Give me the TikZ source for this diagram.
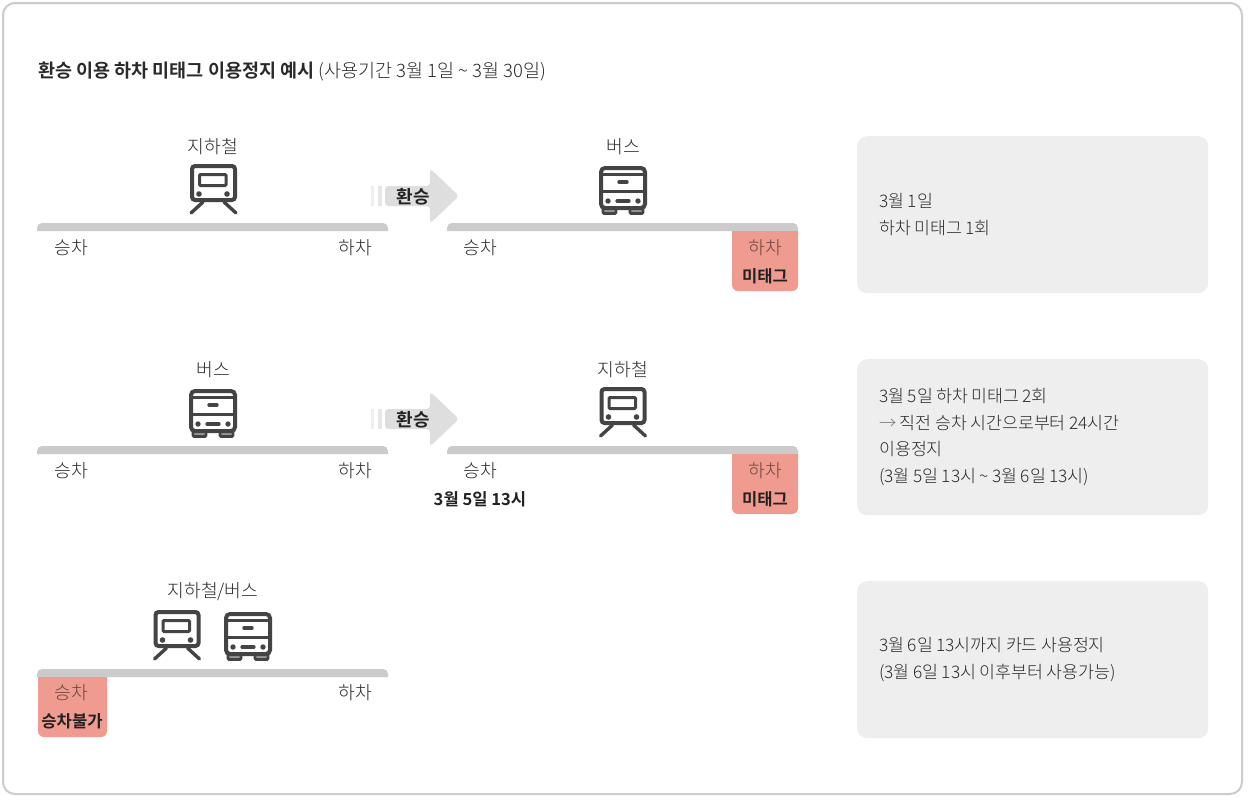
\documentclass[tikz,border=0pt]{standalone}
\usepackage{fontspec}
\setmainfont{Noto Sans CJK KR Light}[BoldFont={Noto Sans CJK KR Bold}]
\definecolor{framec}{HTML}{CCCCCC}
\definecolor{barc}{HTML}{CBCBCB}
\definecolor{tagc}{HTML}{EF9B8F}
\definecolor{boxc}{HTML}{EEEEEE}
\definecolor{arrc}{HTML}{DEDEDE}
\definecolor{iconc}{HTML}{444444}
\definecolor{txtc}{HTML}{2A2A2A}
\definecolor{tagtxt}{HTML}{6E4440}
\definecolor{boldc}{HTML}{222222}
\newcommand{\tld}{\char"7E\relax}
\newcommand{\tightwords}{\spaceskip=3.4pt\relax}
\tikzset{
  lbl/.style={inner sep=0pt,yshift=-1pt,text=txtc,font=\fontsize{18.2}{20}\selectfont},
  taglbl/.style={lbl,text=tagtxt},
  boldlbl/.style={inner sep=0pt,yshift=-1pt,text=boldc,font=\fontsize{16.6}{20}\selectfont\bfseries},
  xferlbl/.style={boldlbl,font=\fontsize{18}{20}\selectfont\bfseries},
  infobox/.style={anchor=north west,fill=boxc,rounded corners=10pt,inner sep=0pt,
    minimum width=351pt,text width=307pt,align=left,text=txtc,
    font=\fontsize{17.3}{26.5}\selectfont,execute at begin node=\tightwords},
  bar/.style={fill=barc},
  tag/.style={fill=tagc},
  pics/traingl/.style={code={
    \draw[iconc,line width=4pt,rounded corners=3pt] (-21.5,-55) rectangle (21.5,-21);
    \draw[iconc,line width=3pt,rounded corners=1pt] (-14,-46.5) rectangle (12.5,-35.5);
    \fill[iconc] (-14.5,-27) circle (2.8) (13.5,-27) circle (2.8);
    \draw[iconc,line width=3.4pt,line cap=round] (-10.5,-19) -- (-22.5,-8);
    \draw[iconc,line width=3.4pt,line cap=round] (10.5,-19) -- (22.5,-8);
  }},
  pics/busgl/.style={code={
    \draw[iconc,line width=2.6pt,rounded corners=1pt,fill=white!45!iconc] (-20,-13) rectangle (-7,-7.5);
    \draw[iconc,line width=2.6pt,rounded corners=1pt,fill=white!45!iconc] (7,-13) rectangle (20,-7.5);
    \draw[iconc,line width=4pt,rounded corners=4pt,fill=white] (-22,-53) rectangle (22,-13);
    \draw[iconc,line width=3pt] (-22,-46.5) -- (22,-46.5);
    \draw[iconc,line width=3.6pt] (-22,-29.5) -- (22,-29.5);
    \draw[iconc,line width=3.4pt,line cap=round] (-4,-39) -- (4,-39);
    \fill[iconc] (-15,-20) circle (2.7) (15,-20) circle (2.7);
    \draw[iconc,line width=3.2pt,line cap=round] (-6,-20) -- (6,-20);
  }},
  pics/xferarrow/.style={code={
    \fill[arrc,opacity=.5] (-42,-10) rectangle (-38.7,10);
    \fill[arrc,opacity=.75] (-35,-10) rectangle (-31,10);
    \fill[arrc,rounded corners=3.5pt] (-28,-10) -- (17,-10) -- (17,-27.5) -- (46,0) -- (17,27.5) -- (17,10) -- (-28,10) -- cycle;
  }},
}
\begin{document}
\begin{tikzpicture}[x=1pt,y=-1pt]
\useasboundingbox (0,0) rectangle (1248,796);
\draw[framec,line width=2pt,rounded corners=12pt,fill=white] (3,3) rectangle (1242,794);

% title
\node[anchor=west,inner sep=0pt,yshift=-2pt,text=txtc,font=\fontsize{18.5}{20}\selectfont] (title) at (38,69)
  {\textbf{환승 이용 하차 미태그 이용정지 예시} (사용기간 3월 1일 \tld{} 3월 30일)};

% bars, row 1
\path[bar] (37,231) [rounded corners=5pt] -- (37,223) -- (388,223) [sharp corners] -- (388,231) -- cycle;
\path[bar] (447,231) [rounded corners=5pt] -- (447,223) -- (798,223) [sharp corners] -- (798,231) -- cycle;
\path[tag] (732,231) [rounded corners=6pt] -- (732,291) -- (798,291) [sharp corners] -- (798,231) -- cycle;
% bars, row 2
\path[bar] (37,454) [rounded corners=5pt] -- (37,446) -- (388,446) [sharp corners] -- (388,454) -- cycle;
\path[bar] (447,454) [rounded corners=5pt] -- (447,446) -- (798,446) [sharp corners] -- (798,454) -- cycle;
\path[tag] (732,454) [rounded corners=6pt] -- (732,514) -- (798,514) [sharp corners] -- (798,454) -- cycle;
% bars, row 3
\path[bar] (37,677) [rounded corners=5pt] -- (37,669) -- (388,669) [sharp corners] -- (388,677) -- cycle;
\path[tag] (38,677) [rounded corners=6pt] -- (38,737) -- (107,737) [sharp corners] -- (107,677) -- cycle;

% icons
\pic at (213.5,221) {traingl};
\pic at (623,221) {busgl};
\pic at (213,444) {busgl};
\pic at (623,444) {traingl};
\pic at (177,667) {traingl};
\pic at (248,667) {busgl};

% transfer arrows
\pic at (413,196) {xferarrow};
\pic at (413,419) {xferarrow};
\node[xferlbl] (x1) at (413,196) {환승};
\node[xferlbl] (x2) at (413,419) {환승};

% row 1 labels
\node[lbl] (a1) at (213,146) {지하철};
\node[lbl] (a2) at (623,146) {버스};
\node[lbl] (a3) at (71,247) {승차};
\node[lbl] (a4) at (355,247) {하차};
\node[lbl] (a5) at (480,247) {승차};
\node[taglbl] (a6) at (765,247) {하차};
\node[boldlbl] (a7) at (765,275) {미태그};
% row 2 labels
\node[lbl] (b1) at (213,369) {버스};
\node[lbl] (b2) at (623,369) {지하철};
\node[lbl] (b3) at (71,470) {승차};
\node[lbl] (b4) at (355,470) {하차};
\node[lbl] (b5) at (480,470) {승차};
\node[boldlbl] (b6) at (480,498) {3월 5일 13시};
\node[taglbl] (b7) at (765,470) {하차};
\node[boldlbl] (b8) at (765,498) {미태그};
% row 3 labels
\node[lbl] (c1) at (213,591) {지하철/버스};
\node[taglbl] (c2) at (71,692) {승차};
\node[boldlbl] (c3) at (72,720) {승차불가};
\node[lbl] (c4) at (355,692) {하차};

% info boxes
\node[infobox,minimum height=157pt] (i1) at (857,136) {3월 1일\\하차 미태그 1회};
\node[infobox,minimum height=156pt] (i2) at (857,359) {3월 5일 하차 미태그 2회\\{\color{gray}→} 직전 승차 시간으로부터 24시간 이용정지\\(3월 5일 13시 \tld{} 3월 6일 13시)};
\node[infobox,minimum height=157pt] (i3) at (857,581) {3월 6일 13시까지 카드 사용정지\\(3월 6일 13시 이후부터 사용가능)};
\end{tikzpicture}
\end{document}
